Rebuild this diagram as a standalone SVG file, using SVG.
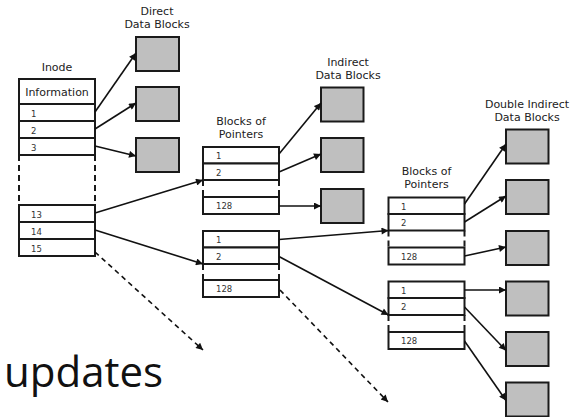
<svg xmlns="http://www.w3.org/2000/svg" width="576" height="417" viewBox="0 0 576 417">
<style>
.box{fill:#fff;stroke:#1a1a1a;stroke-width:2}
.data{fill:#bfbfbf;stroke:#1a1a1a;stroke-width:2}
.dash{stroke:#1a1a1a;stroke-width:2;stroke-dasharray:6,4;fill:none}
.lbl{font-family:"DejaVu Sans",sans-serif;font-size:11px;fill:#222;text-anchor:middle}
.num{font-family:"DejaVu Sans",sans-serif;font-size:8.5px;fill:#333}
.arr{stroke:#111;stroke-width:1.6;fill:none;marker-end:url(#ah)}
.darr{stroke:#111;stroke-width:1.6;fill:none;stroke-dasharray:5,4;marker-end:url(#ah)}
.big{font-family:"Open Sans",sans-serif;font-size:42px;fill:#111}
</style>
<defs>
<marker id="ah" viewBox="0 0 10 10" refX="10" refY="5" markerUnits="userSpaceOnUse" markerWidth="9" markerHeight="7" orient="auto">
<path d="M0,0 L10,5 L0,10 z" fill="#111"/>
</marker>
</defs>

<g id="inode">
<text class="lbl" x="57" y="71">Inode</text>
<rect class="box" x="19" y="79" width="76" height="25"/>
<text class="lbl" x="57" y="96">Information</text>
<rect class="box" x="19" y="104" width="76" height="17"/>
<rect class="box" x="19" y="121" width="76" height="17"/>
<rect class="box" x="19" y="138" width="76" height="17"/>
<line class="dash" x1="19" y1="155" x2="19" y2="205"/>
<line class="dash" x1="95" y1="155" x2="95" y2="205"/>
<rect class="box" x="19" y="205" width="76" height="17"/>
<rect class="box" x="19" y="222" width="76" height="17"/>
<rect class="box" x="19" y="239" width="76" height="17"/>
<text class="num" x="31" y="116.5">1</text>
<text class="num" x="31" y="133.5">2</text>
<text class="num" x="31" y="150.5">3</text>
<text class="num" x="31" y="217.5">13</text>
<text class="num" x="31" y="234.5">14</text>
<text class="num" x="31" y="251.5">15</text>
</g>

<g id="direct-blocks">
<text class="lbl" x="157" y="15">Direct</text>
<text class="lbl" x="157" y="28">Data Blocks</text>
<rect class="data" x="136" y="37" width="43" height="34"/>
<rect class="data" x="136" y="87" width="43" height="34"/>
<rect class="data" x="136" y="138" width="43" height="34"/>
</g>

<g id="pointers-1">
<text class="lbl" x="241" y="125">Blocks of</text>
<text class="lbl" x="241" y="138">Pointers</text>
<rect class="box" x="203" y="147" width="76" height="16.5"/>
<rect class="box" x="203" y="163.5" width="76" height="16.5"/>
<line class="dash" x1="203" y1="180" x2="203" y2="197"/>
<line class="dash" x1="279" y1="180" x2="279" y2="197"/>
<rect class="box" x="203" y="197" width="76" height="17"/>
<text class="num" x="216" y="159">1</text>
<text class="num" x="216" y="175.5">2</text>
<text class="num" x="216" y="209">128</text>
</g>

<g id="pointers-2">
<rect class="box" x="203" y="231" width="76" height="16.5"/>
<rect class="box" x="203" y="247.5" width="76" height="16.5"/>
<line class="dash" x1="203" y1="264" x2="203" y2="280"/>
<line class="dash" x1="279" y1="264" x2="279" y2="280"/>
<rect class="box" x="203" y="280" width="76" height="17"/>
<text class="num" x="216" y="243">1</text>
<text class="num" x="216" y="259.5">2</text>
<text class="num" x="216" y="292">128</text>
</g>

<g id="indirect-blocks">
<text class="lbl" x="348" y="65.5">Indirect</text>
<text class="lbl" x="348" y="78.5">Data Blocks</text>
<rect class="data" x="321" y="87.5" width="42.5" height="34"/>
<rect class="data" x="321" y="138" width="42.5" height="34"/>
<rect class="data" x="321" y="189" width="42.5" height="34"/>
</g>

<g id="pointers-3">
<text class="lbl" x="426.5" y="175">Blocks of</text>
<text class="lbl" x="426.5" y="188">Pointers</text>
<rect class="box" x="388.5" y="197.5" width="76" height="16.5"/>
<rect class="box" x="388.5" y="214" width="76" height="16.5"/>
<line class="dash" x1="388.5" y1="230.5" x2="388.5" y2="247.5"/>
<line class="dash" x1="464.5" y1="230.5" x2="464.5" y2="247.5"/>
<rect class="box" x="388.5" y="247.5" width="76" height="17"/>
<text class="num" x="401" y="209.5">1</text>
<text class="num" x="401" y="226">2</text>
<text class="num" x="401" y="259.5">128</text>
</g>

<g id="pointers-4">
<rect class="box" x="388.5" y="281.5" width="76" height="16.5"/>
<rect class="box" x="388.5" y="298" width="76" height="17"/>
<line class="dash" x1="388.5" y1="315" x2="388.5" y2="332"/>
<line class="dash" x1="464.5" y1="315" x2="464.5" y2="332"/>
<rect class="box" x="388.5" y="332" width="76" height="17"/>
<text class="num" x="401" y="293.5">1</text>
<text class="num" x="401" y="310">2</text>
<text class="num" x="401" y="344">128</text>
</g>

<g id="double-indirect-blocks">
<text class="lbl" x="527" y="108">Double Indirect</text>
<text class="lbl" x="527" y="121">Data Blocks</text>
<rect class="data" x="506" y="129.5" width="42.5" height="34"/>
<rect class="data" x="506" y="180" width="42.5" height="34"/>
<rect class="data" x="506" y="231" width="42.5" height="34"/>
<rect class="data" x="506" y="281.5" width="42.5" height="34"/>
<rect class="data" x="506" y="332" width="42.5" height="34"/>
<rect class="data" x="506" y="382.5" width="42.5" height="34"/>
</g>

<g id="connectors">
<line class="arr" x1="95" y1="112" x2="136" y2="53"/>
<line class="arr" x1="95" y1="129" x2="136" y2="103"/>
<line class="arr" x1="95" y1="146" x2="136" y2="156"/>
<line class="arr" x1="95" y1="213" x2="203" y2="180"/>
<line class="arr" x1="95" y1="230" x2="203" y2="264"/>
<line class="darr" x1="95" y1="252" x2="203" y2="350"/>
<line class="arr" x1="279" y1="154" x2="321" y2="103"/>
<line class="arr" x1="279" y1="172" x2="321" y2="154"/>
<line class="arr" x1="279" y1="206" x2="321" y2="206"/>
<line class="arr" x1="279" y1="239.5" x2="388.5" y2="230.5"/>
<line class="arr" x1="279" y1="256.5" x2="388.5" y2="315"/>
<line class="darr" x1="280" y1="290" x2="388" y2="402"/>
<line class="arr" x1="464.5" y1="204" x2="506" y2="144"/>
<line class="arr" x1="464.5" y1="222" x2="506" y2="196"/>
<line class="arr" x1="464.5" y1="256" x2="506" y2="247"/>
<line class="arr" x1="464.5" y1="290" x2="506" y2="290"/>
<line class="arr" x1="464.5" y1="307" x2="506" y2="350.5"/>
<line class="arr" x1="464.5" y1="341" x2="506" y2="400.5"/>
</g>

<text class="big" x="4" y="387">updates</text>
</svg>
